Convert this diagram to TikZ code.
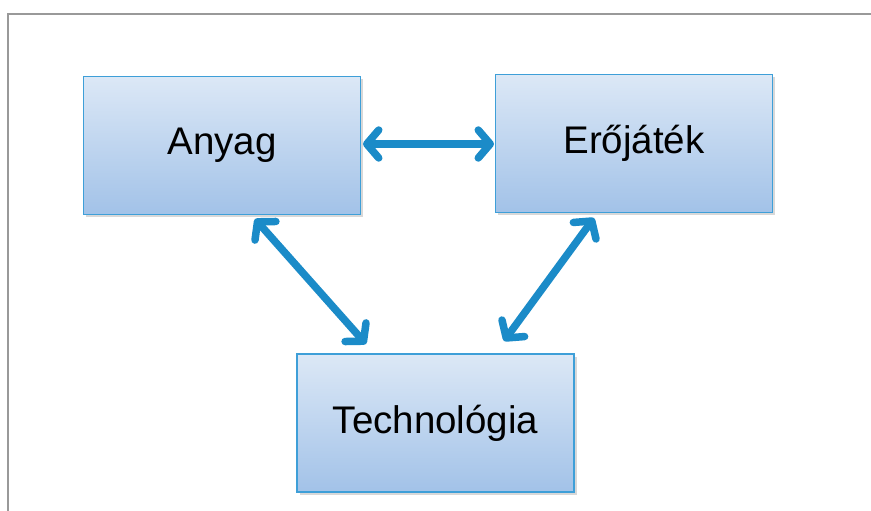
\documentclass[tikz,border=0pt]{standalone}
\usepackage{fontspec}
\setmainfont{Liberation Sans}
\usetikzlibrary{arrows.meta,shadows}
\definecolor{boxtop}{HTML}{DCE8F6}
\definecolor{boxbot}{HTML}{A2C2E8}
\definecolor{boxline}{HTML}{3E9FD8}
\definecolor{arrowblue}{HTML}{1B8BC8}
\definecolor{framegray}{HTML}{999999}
\tikzset{
  box/.style={draw=boxline, line width=1.4pt, top color=boxtop, bottom color=boxbot,
    minimum width=277pt, minimum height=138pt, inner sep=0pt,
    font=\fontsize{38.5}{46}\selectfont,
    drop shadow={shadow xshift=2.5pt, shadow yshift=-2.5pt, opacity=0.25, fill=black!60}},
  link/.style={draw=arrowblue, line width=7.5pt, line cap=round,
    {Straight Barb[length=12pt,width=28pt,round]}-{Straight Barb[length=12pt,width=28pt,round]}}
}
\begin{document}
\begin{tikzpicture}[x=1pt,y=-1pt]
\useasboundingbox (0,0) rectangle (871,511);
\fill[white] (0,0) rectangle (871,511);
\draw[framegray, line width=2.5pt] (8,515) -- (8,14) -- (875,14);
\node[box] (anyag) at (222,145.5) {Anyag};
\node[box] (ero) at (634,143.5) {Erőjáték};
\node[box] (tech) at (435.5,423) {Technológia};
\coordinate (h1) at (363,144);
\coordinate (h2) at (494,144);
\coordinate (l1) at (255,219);
\coordinate (l2) at (366,344);
\coordinate (r1) at (594,218);
\coordinate (r2) at (504,341);
\draw[link] (h1) -- (h2);
\draw[link] (l1) -- (l2);
\draw[link] (r1) -- (r2);
\end{tikzpicture}
\end{document}
